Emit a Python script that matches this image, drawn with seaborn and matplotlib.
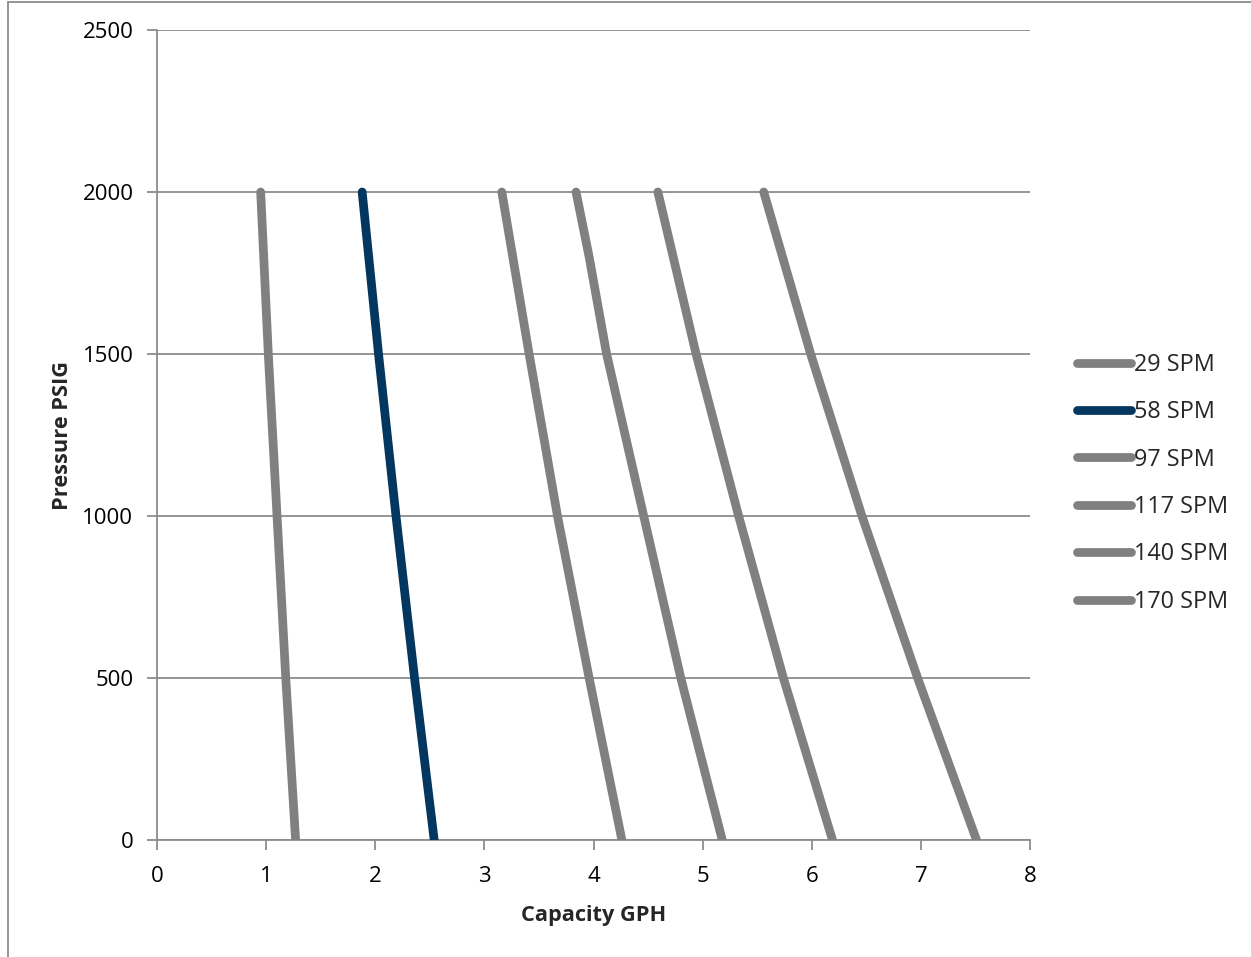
import numpy as np
import pandas as pd
import seaborn as sns
import matplotlib.pyplot as plt
from matplotlib.patches import Rectangle
from matplotlib.lines import Line2D

# pressure levels (PSIG) and capacity (GPH) per stroke rate
pressure = [2000, 1500, 1000, 500, 0]
spm_29 = [0.95, 1.02, 1.10, 1.18, 1.27]
spm_58 = [1.88, 2.03, 2.19, 2.36, 2.54]
spm_97 = [3.16, 3.41, 3.67, 3.96, 4.26]
pressure_117 = [2000, 1800, 1500, 1000, 500, 0]
spm_117 = [3.84, 3.96, 4.12, 4.46, 4.80, 5.18]
spm_140 = [4.59, 4.94, 5.33, 5.74, 6.19]
spm_170 = [5.56, 5.99, 6.46, 6.97, 7.51]

series = ['29 SPM', '58 SPM', '97 SPM', '117 SPM', '140 SPM', '170 SPM']
values = [spm_29, spm_58, spm_97, spm_117, spm_140, spm_170]
pressures = [pressure, pressure, pressure, pressure_117, pressure, pressure]

rows = []
for name, xs, ps in zip(series, values, pressures):
    for x, p in zip(xs, ps):
        rows.append({'series': name, 'capacity': x, 'pressure': p})
df = pd.DataFrame(rows)

grey = '#808080'
navy = '#03375F'
palette = {s: grey for s in series}
palette['58 SPM'] = navy

sns.set_style('white')
plt.rcParams['font.family'] = ['Open Sans', 'DejaVu Sans']

fig = plt.figure(figsize=(12.51, 9.57), dpi=100)
ax = fig.add_axes([157 / 1251, 117 / 957, 873 / 1251, 810 / 957])

sns.lineplot(data=df, x='capacity', y='pressure', hue='series', palette=palette,
             sort=False, linewidth=6.3, ax=ax, legend=False, zorder=3)
for ln in ax.get_lines():
    ln.set_solid_capstyle('round')
    ln.set_solid_joinstyle('round')

ax.set_xlim(0, 8)
ax.set_ylim(0, 2500)
ax.set_xticks(np.arange(9))
ax.set_yticks(np.arange(0, 2501, 500))
ax.yaxis.grid(True, color='#8c8c8c', linewidth=1.3)
ax.xaxis.grid(False)
for side in ['top', 'right']:
    ax.spines[side].set_visible(False)
for side in ['left', 'bottom']:
    ax.spines[side].set_color('#8c8c8c')
    ax.spines[side].set_linewidth(1.3)
ax.tick_params(axis='both', direction='out', length=7, width=1.3, color='#8c8c8c',
               labelsize=16, labelcolor='black', left=True, bottom=True)
ax.tick_params(axis='y', pad=10)
ax.tick_params(axis='x', pad=12)
ax.set_xlabel('Capacity GPH', fontsize=15.7, fontweight='bold', labelpad=13)
ax.set_ylabel('Pressure PSIG', fontsize=15.7, fontweight='bold', labelpad=7)

handles = [Line2D([], [], color=palette[s], linewidth=6.3, solid_capstyle='round')
           for s in series]
leg = fig.legend(handles, series, loc='upper left', bbox_to_anchor=(1077 / 1251, 1 - 353 / 957),
                 frameon=False, fontsize=16.8, handlelength=2.3, handletextpad=0.15,
                 labelspacing=1.0, borderaxespad=0, borderpad=0)

# outer chart border
fig.patches.append(Rectangle((8 / 1251, -0.1), 1.2, 1 - 2 / 957 + 0.1, transform=fig.transFigure,
                             fill=False, edgecolor='#8c8c8c', linewidth=1.3, clip_on=False))

fig.savefig('out.png', dpi=100)
